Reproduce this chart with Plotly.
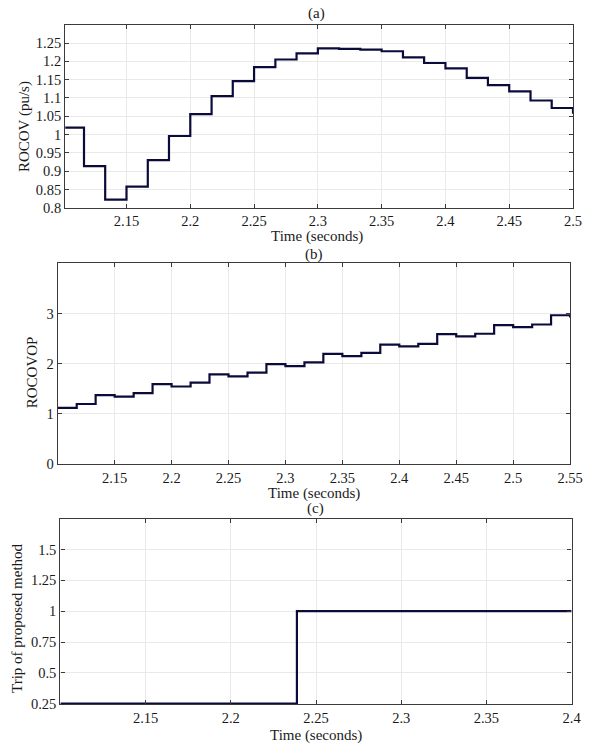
import plotly.graph_objects as go

# ---- data -------------------------------------------------------------
# (a) ROCOV, piecewise-constant samples (segment start times, pu/s)
t_rocov = [2.1000, 2.1167, 2.1333, 2.1500, 2.1667, 2.1833, 2.2000, 2.2167,
           2.2333, 2.2500, 2.2667, 2.2833, 2.3000, 2.3167, 2.3333, 2.3500,
           2.3667, 2.3833, 2.4000, 2.4167, 2.4333, 2.4500, 2.4667, 2.4833,
           2.5000]
rocov = [1.019, 0.914, 0.8225, 0.858, 0.930, 0.996, 1.056, 1.105,
         1.146, 1.184, 1.205, 1.222, 1.2356, 1.234, 1.232, 1.2275,
         1.211, 1.1955, 1.181, 1.155, 1.135, 1.118, 1.093, 1.0725,
         1.057]

# (b) ROCOVOP
t_rocovop = [2.1000, 2.1167, 2.1333, 2.1500, 2.1667, 2.1833, 2.2000, 2.2167,
             2.2333, 2.2500, 2.2667, 2.2833, 2.3000, 2.3167, 2.3333, 2.3500,
             2.3667, 2.3833, 2.4000, 2.4167, 2.4333, 2.4500, 2.4667, 2.4833,
             2.5000, 2.5167, 2.5333, 2.5500]
rocovop = [1.121, 1.200, 1.378, 1.345, 1.417, 1.595, 1.549, 1.628,
           1.793, 1.753, 1.826, 1.997, 1.958, 2.030, 2.202, 2.156,
           2.222, 2.386, 2.353, 2.400, 2.597, 2.551, 2.604, 2.775,
           2.736, 2.788, 2.973, 2.930]

# (c) trip signal of the proposed method
t_trip = [2.1000, 2.2388, 2.4000]
trip = [0.25, 1.0, 1.0]

# tick labels
xt_a = ["2.15", "2.2", "2.25", "2.3", "2.35", "2.4", "2.45", "2.5"]
yt_a = ["0.8", "0.85", "0.9", "0.95", "1", "1.05", "1.1", "1.15", "1.2", "1.25"]
xt_b = ["2.15", "2.2", "2.25", "2.3", "2.35", "2.4", "2.45", "2.5", "2.55"]
yt_b = ["0", "1", "2", "3"]
xt_c = ["2.15", "2.2", "2.25", "2.3", "2.35", "2.4"]
yt_c = ["0.25", "0.5", "0.75", "1", "1.25", "1.5"]

# ---- styling ----------------------------------------------------------
W, H = 600, 753
FONT = "Liberation Serif"
TXT = "#1a1a1a"
LINE = "#0b0b3b"
FRAME = "#3a3a3a"


def px_x(p):
    return p / W


def px_y(p):
    return 1 - p / H


fig = go.Figure()

panels = [
    # traces, x-domain px, y-domain px (top, bottom), ranges, ticks
    dict(x=t_rocov, y=rocov, xd=(66.7, 585.7), yd=(25, 210),
         xr=[2.102, 2.5], yr=[0.8, 1.3], xt=xt_a, yt=yt_a),
    dict(x=t_rocovop, y=rocovop, xd=(59, 582.7), yd=(265.7, 469),
         xr=[2.1, 2.55], yr=[0, 4.02], xt=xt_b, yt=yt_b),
    dict(x=t_trip, y=trip, xd=(61.7, 584.3), yd=(524.3, 711.7),
         xr=[2.1, 2.4], yr=[0.246, 1.75], xt=xt_c, yt=yt_c),
]

for i, p in enumerate(panels, start=1):
    sx = "" if i == 1 else str(i)
    fig.add_trace(go.Scatter(
        x=p["x"], y=p["y"], mode="lines", line_shape="hv",
        line=dict(color=LINE, width=2.2),
        xaxis="x" + sx, yaxis="y" + sx, showlegend=False,
        hoverinfo="skip"))
    axis_common = dict(
        showline=True, linecolor=FRAME, linewidth=1.3, mirror="ticks",
        ticks="inside", ticklen=4, tickcolor=FRAME, tickwidth=1,
        showgrid=True, gridcolor="#e9e9e9", gridwidth=1,
        zeroline=False, tickfont=dict(family=FONT, size=14.5, color=TXT),
    )
    fig.layout["xaxis" + sx] = dict(
        axis_common, domain=[px_x(p["xd"][0]), px_x(p["xd"][1])],
        range=p["xr"], anchor="y" + sx,
        tickmode="array", tickvals=[float(v) for v in p["xt"]],
        ticktext=p["xt"])
    fig.layout["yaxis" + sx] = dict(
        axis_common, domain=[px_y(p["yd"][1]), px_y(p["yd"][0])],
        range=p["yr"], anchor="x" + sx,
        tickmode="array", tickvals=[float(v) for v in p["yt"]],
        ticktext=p["yt"])

# ---- text: panel letters, axis titles ---------------------------------
ann = []


def text(x, y, s, angle=0):
    ann.append(dict(x=px_x(x), y=px_y(y), xref="paper", yref="paper",
                    text=s, showarrow=False, textangle=angle,
                    xanchor="center", yanchor="middle",
                    font=dict(family=FONT, size=15, color=TXT)))


text(324, 14, "(a)")
text(324, 239.5, "Time (seconds)")
text(25, 128, "ROCOV (pu/s)", -90)

text(321, 257, "(b)")
text(321, 499, "Time (seconds)")
text(33, 376, "ROCOVOP", -90)

text(322, 514, "(c)")
text(323, 743, "Time (seconds)")
text(18, 625, "Trip of proposed method", -90)

fig.update_layout(
    width=W, height=H, margin=dict(l=0, r=0, t=0, b=0),
    paper_bgcolor="white", plot_bgcolor="white",
    annotations=ann, showlegend=False,
)

fig.write_html("out.html")
